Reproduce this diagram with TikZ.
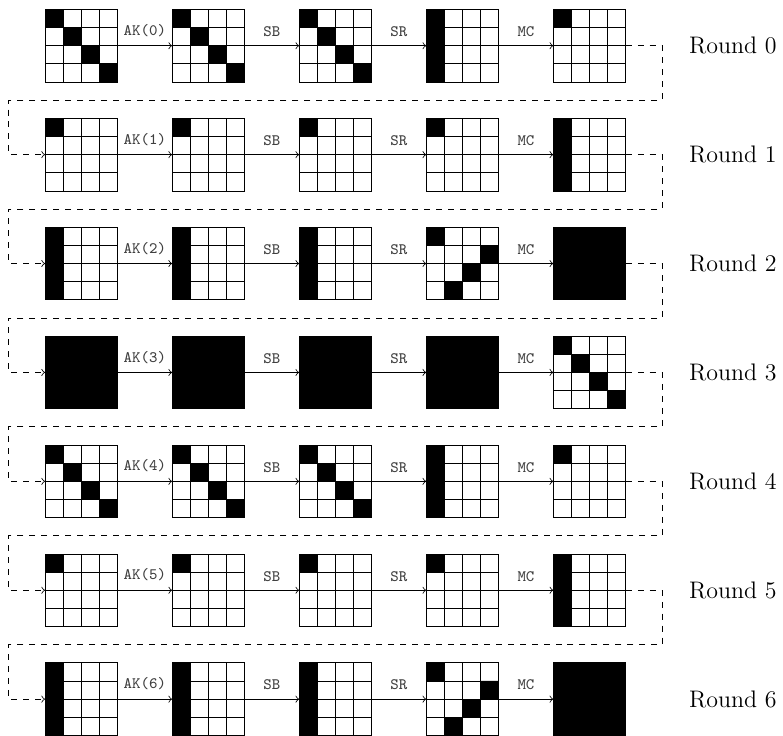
\documentclass[tikz,border=0pt]{standalone}
\usepackage{tikz}

\begin{document}
\begin{tikzpicture}[x=0.32cm, y=0.32cm,
  st/.style = {draw, minimum size=1.28cm, inner sep=0, outer sep=0, path picture={\fill #1; \draw[step=0.32cm] (-2,-2) grid (2,2);}},
  sng/.style = {st={(-2,1) rectangle (-1,2)}},
  dia/.style = {st={(-2,1) rectangle (-1,2) (-1,0) rectangle (0,1) (0,-1) rectangle (1,0) (1,-2) rectangle (2,-1)}},
  col/.style = {st={(-2,-2) rectangle (-1,2)}},
  mix/.style = {st={(-2,1) rectangle (-1,2) (1,0) rectangle (2,1) (0,-1) rectangle (1,0) (-1,-2) rectangle (0,-1)}},
  blk/.style = {st={(-2,-2) rectangle (2,2)}},
  lbl/.style = {above, yshift=1pt, font=\ttfamily\footnotesize, text=black!75},
  rnd/.style = {anchor=west, font=\large}]
\useasboundingbox (-2.48,0.52) rectangle (40.66,-40.03);
% round 0
\node[dia](a0) at (2,-2) {}; \node[dia](a1) at (9,-2) {}; \node[dia](a2) at (16,-2) {}; \node[col](a3) at (23,-2) {}; \node[sng](a4) at (30,-2) {};
\draw[->] (a0) -- node[lbl](ka){AK(0)} (a1); \draw[->] (a1) -- node[lbl](ba){SB} (a2); \draw[->] (a2) -- node[lbl](sa){SR} (a3); \draw[->] (a3) -- node[lbl](ma){MC} (a4);
\node[rnd](r0) at (35.1,-2) {Round 0};
% round 1
\node[sng](b0) at (2,-8) {}; \node[sng](b1) at (9,-8) {}; \node[sng](b2) at (16,-8) {}; \node[sng](b3) at (23,-8) {}; \node[col](b4) at (30,-8) {};
\draw[->] (b0) -- node[lbl](kb){AK(1)} (b1); \draw[->] (b1) -- node[lbl](bb){SB} (b2); \draw[->] (b2) -- node[lbl](sb){SR} (b3); \draw[->] (b3) -- node[lbl](mb){MC} (b4);
\node[rnd](r1) at (35.1,-8) {Round 1};
% round 2
\node[col](c0) at (2,-14) {}; \node[col](c1) at (9,-14) {}; \node[col](c2) at (16,-14) {}; \node[mix](c3) at (23,-14) {}; \node[blk](c4) at (30,-14) {};
\draw[->] (c0) -- node[lbl](kc){AK(2)} (c1); \draw[->] (c1) -- node[lbl](bc){SB} (c2); \draw[->] (c2) -- node[lbl](sc){SR} (c3); \draw[->] (c3) -- node[lbl](mc){MC} (c4);
\node[rnd](r2) at (35.1,-14) {Round 2};
% round 3
\node[blk](d0) at (2,-20) {}; \node[blk](d1) at (9,-20) {}; \node[blk](d2) at (16,-20) {}; \node[blk](d3) at (23,-20) {}; \node[dia](d4) at (30,-20) {};
\draw[->] (d0) -- node[lbl](kd){AK(3)} (d1); \draw[->] (d1) -- node[lbl](bd){SB} (d2); \draw[->] (d2) -- node[lbl](sd){SR} (d3); \draw[->] (d3) -- node[lbl](md){MC} (d4);
\node[rnd](r3) at (35.1,-20) {Round 3};
% round 4
\node[dia](e0) at (2,-26) {}; \node[dia](e1) at (9,-26) {}; \node[dia](e2) at (16,-26) {}; \node[col](e3) at (23,-26) {}; \node[sng](e4) at (30,-26) {};
\draw[->] (e0) -- node[lbl](ke){AK(4)} (e1); \draw[->] (e1) -- node[lbl](be){SB} (e2); \draw[->] (e2) -- node[lbl](se){SR} (e3); \draw[->] (e3) -- node[lbl](me){MC} (e4);
\node[rnd](r4) at (35.1,-26) {Round 4};
% round 5
\node[sng](f0) at (2,-32) {}; \node[sng](f1) at (9,-32) {}; \node[sng](f2) at (16,-32) {}; \node[sng](f3) at (23,-32) {}; \node[col](f4) at (30,-32) {};
\draw[->] (f0) -- node[lbl](kf){AK(5)} (f1); \draw[->] (f1) -- node[lbl](bf){SB} (f2); \draw[->] (f2) -- node[lbl](sf){SR} (f3); \draw[->] (f3) -- node[lbl](mf){MC} (f4);
\node[rnd](r5) at (35.1,-32) {Round 5};
% round 6
\node[col](g0) at (2,-38) {}; \node[col](g1) at (9,-38) {}; \node[col](g2) at (16,-38) {}; \node[mix](g3) at (23,-38) {}; \node[blk](g4) at (30,-38) {};
\draw[->] (g0) -- node[lbl](kg){AK(6)} (g1); \draw[->] (g1) -- node[lbl](bg){SB} (g2); \draw[->] (g2) -- node[lbl](sg){SR} (g3); \draw[->] (g3) -- node[lbl](mg){MC} (g4);
\node[rnd](r6) at (35.1,-38) {Round 6};
% between rounds
\draw[dashed,->] (a4.east) -- ++(2,0) |- ++(-36,-3) |- (b0.west); \draw[dashed,->] (b4.east) -- ++(2,0) |- ++(-36,-3) |- (c0.west);
\draw[dashed,->] (c4.east) -- ++(2,0) |- ++(-36,-3) |- (d0.west); \draw[dashed,->] (d4.east) -- ++(2,0) |- ++(-36,-3) |- (e0.west);
\draw[dashed,->] (e4.east) -- ++(2,0) |- ++(-36,-3) |- (f0.west); \draw[dashed,->] (f4.east) -- ++(2,0) |- ++(-36,-3) |- (g0.west);
\end{tikzpicture}
\end{document}
